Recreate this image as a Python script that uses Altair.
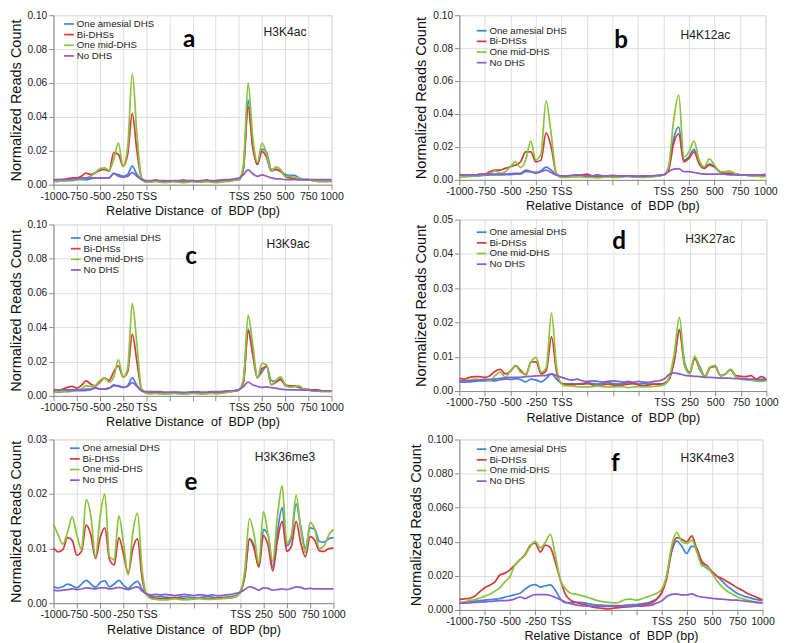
import altair as alt
import pandas as pd

# x positions: 0..1000 = -1000 bp..TSS (left promoter), 2000..3000 = TSS..+1000 bp (right)
POS = list(range(0, 3001, 50))
SERIES = ["One amesial DHS", "Bi-DHSs", "One mid-DHS", "No DHS"]
COLORS = ["#3f86d6", "#d83b3d", "#8cc43f", "#8b5ec8"]
TICK_POS = [0, 250, 500, 750, 1000, 1250, 1500, 1750, 2000, 2250, 2500, 2750, 3000]
TICK_LABELS = ["-1000", "-750", "-500", "-250", "TSS", "", "", "", "TSS", "250", "500", "750", "1000"]
X_TITLE = "Relative Distance\u00a0 of\u00a0 BDP (bp)"
Y_TITLE = "Normalized Reads Count"

# ---------------- panel a : H3K4ac ----------------
A_BLUE = [0.002, 0.002, 0.0025, 0.0025, 0.0025, 0.003, 0.003, 0.003, 0.0035, 0.004, 0.004, 0.004, 0.004, 0.0065, 0.006, 0.005, 0.006, 0.011, 0.006, 0.003, 0.002,
          0.002, 0.0022, 0.002, 0.0018, 0.002, 0.0022, 0.002, 0.0018, 0.0025, 0.002, 0.0018, 0.002, 0.002, 0.0022, 0.002, 0.0022, 0.0025, 0.0025, 0.0028,
          0.003, 0.010, 0.050, 0.024, 0.012, 0.021, 0.019, 0.009, 0.009, 0.008, 0.006, 0.0055, 0.0055, 0.004, 0.003, 0.003, 0.0025, 0.002, 0.002, 0.002, 0.0025]
A_RED = [0.0025, 0.003, 0.003, 0.0035, 0.004, 0.004, 0.005, 0.0068, 0.006, 0.007, 0.0085, 0.009, 0.008, 0.019, 0.018, 0.011, 0.018, 0.042, 0.020, 0.004, 0.002,
         0.002, 0.0025, 0.002, 0.0022, 0.0025, 0.002, 0.0018, 0.002, 0.0022, 0.0025, 0.002, 0.0022, 0.0025, 0.002, 0.0018, 0.002, 0.0022, 0.0025, 0.0028,
         0.003, 0.010, 0.046, 0.022, 0.012, 0.0195, 0.016, 0.008, 0.009, 0.008, 0.005, 0.004, 0.0035, 0.003, 0.003, 0.003, 0.0025, 0.0025, 0.002, 0.002, 0.002]
A_GREEN = [0.002, 0.002, 0.0025, 0.0025, 0.003, 0.003, 0.0035, 0.004, 0.005, 0.007, 0.0095, 0.010, 0.0085, 0.015, 0.0245, 0.011, 0.022, 0.0655, 0.030, 0.004, 0.0015,
           0.0015, 0.0018, 0.0015, 0.0012, 0.0015, 0.0018, 0.0015, 0.0012, 0.0015, 0.0018, 0.0015, 0.0015, 0.0018, 0.0015, 0.0012, 0.0015, 0.0018, 0.002, 0.0025,
           0.003, 0.012, 0.060, 0.028, 0.013, 0.0245, 0.018, 0.008, 0.0105, 0.009, 0.005, 0.005, 0.0045, 0.004, 0.003, 0.003, 0.0025, 0.002, 0.002, 0.002, 0.0025]
A_PURPLE = [0.003, 0.003, 0.003, 0.003, 0.0035, 0.0035, 0.004, 0.004, 0.004, 0.004, 0.004, 0.004, 0.004, 0.0068, 0.005, 0.0045, 0.005, 0.0072, 0.005, 0.003, 0.0025,
            0.0025, 0.0028, 0.0025, 0.0025, 0.0022, 0.0025, 0.0025, 0.0028, 0.0025, 0.0025, 0.0022, 0.0025, 0.0028, 0.0025, 0.0025, 0.0028, 0.003, 0.003, 0.0035,
            0.004, 0.006, 0.0088, 0.0065, 0.005, 0.0058, 0.005, 0.004, 0.0035, 0.0035, 0.003, 0.003, 0.003, 0.003, 0.003, 0.003, 0.003, 0.003, 0.003, 0.003, 0.003]

# ---------------- panel b : H4K12ac ----------------
B_BLUE = [0.002, 0.002, 0.0022, 0.0025, 0.0025, 0.0028, 0.003, 0.003, 0.003, 0.0032, 0.0032, 0.0035, 0.0035, 0.005, 0.005, 0.004, 0.0055, 0.0078, 0.006, 0.003, 0.002,
          0.002, 0.0022, 0.002, 0.0025, 0.002, 0.0022, 0.003, 0.0025, 0.002, 0.0022, 0.002, 0.0025, 0.0022, 0.002, 0.0022, 0.0025, 0.0022, 0.0025, 0.0028,
          0.003, 0.007, 0.025, 0.032, 0.012, 0.014, 0.0185, 0.010, 0.007, 0.0097, 0.008, 0.005, 0.004, 0.004, 0.0035, 0.003, 0.003, 0.003, 0.003, 0.003, 0.003]
B_RED = [0.0025, 0.003, 0.003, 0.003, 0.0035, 0.0035, 0.005, 0.006, 0.006, 0.007, 0.008, 0.009, 0.011, 0.017, 0.017, 0.011, 0.012, 0.0285, 0.020, 0.004, 0.002,
         0.002, 0.0022, 0.0025, 0.003, 0.0035, 0.0025, 0.002, 0.0022, 0.002, 0.002, 0.0022, 0.0025, 0.0025, 0.002, 0.002, 0.0022, 0.002, 0.0022, 0.0025,
         0.003, 0.006, 0.022, 0.028, 0.011, 0.013, 0.017, 0.010, 0.007, 0.009, 0.008, 0.005, 0.004, 0.004, 0.0035, 0.003, 0.003, 0.0025, 0.0025, 0.0025, 0.0025]
B_GREEN = [0.002, 0.002, 0.0025, 0.0025, 0.003, 0.003, 0.004, 0.0055, 0.004, 0.005, 0.008, 0.011, 0.0075, 0.012, 0.0235, 0.012, 0.016, 0.048, 0.028, 0.004, 0.0015,
           0.0015, 0.0018, 0.002, 0.0018, 0.0015, 0.0015, 0.0012, 0.0015, 0.0018, 0.0015, 0.0015, 0.0018, 0.0022, 0.002, 0.0018, 0.0015, 0.0018, 0.002, 0.0025,
           0.003, 0.008, 0.036, 0.0515, 0.014, 0.017, 0.0235, 0.012, 0.008, 0.0128, 0.009, 0.005, 0.005, 0.0055, 0.004, 0.003, 0.003, 0.0025, 0.0025, 0.002, 0.002]
B_PURPLE = [0.003, 0.003, 0.003, 0.003, 0.0032, 0.0032, 0.0035, 0.0035, 0.0035, 0.0035, 0.0038, 0.004, 0.004, 0.006, 0.005, 0.0045, 0.005, 0.006, 0.0045, 0.003, 0.0025,
            0.0025, 0.0028, 0.003, 0.0028, 0.0025, 0.0025, 0.0028, 0.0025, 0.0025, 0.0028, 0.0025, 0.0022, 0.0025, 0.0025, 0.0022, 0.0022, 0.0025, 0.0025, 0.0028,
            0.003, 0.005, 0.0065, 0.0068, 0.005, 0.005, 0.0045, 0.004, 0.0035, 0.0035, 0.0035, 0.0035, 0.0035, 0.003, 0.003, 0.003, 0.003, 0.003, 0.003, 0.003, 0.0035]

# ---------------- panel c : H3K9ac ----------------
C_BLUE = [0.0022, 0.0022, 0.0025, 0.0025, 0.0028, 0.003, 0.003, 0.0032, 0.0035, 0.0045, 0.004, 0.004, 0.0045, 0.0058, 0.006, 0.005, 0.006, 0.0105, 0.006, 0.003, 0.002,
          0.002, 0.0018, 0.0015, 0.0018, 0.0015, 0.0018, 0.002, 0.0018, 0.0015, 0.0025, 0.0018, 0.0015, 0.0018, 0.002, 0.0018, 0.002, 0.0022, 0.0025, 0.003,
          0.0035, 0.009, 0.039, 0.026, 0.011, 0.014, 0.0175, 0.009, 0.0085, 0.010, 0.006, 0.0055, 0.0055, 0.005, 0.004, 0.0035, 0.003, 0.003, 0.0028, 0.0028, 0.0028]
C_RED = [0.0025, 0.003, 0.004, 0.005, 0.0055, 0.0045, 0.006, 0.0088, 0.007, 0.0058, 0.008, 0.0104, 0.009, 0.014, 0.0175, 0.011, 0.014, 0.036, 0.020, 0.004, 0.002,
         0.0018, 0.002, 0.0018, 0.0015, 0.0018, 0.002, 0.0018, 0.0015, 0.0015, 0.0018, 0.002, 0.0018, 0.0015, 0.0018, 0.002, 0.0022, 0.0025, 0.0028, 0.003,
         0.0035, 0.008, 0.038, 0.024, 0.0105, 0.016, 0.017, 0.0065, 0.008, 0.0095, 0.0065, 0.0058, 0.0058, 0.0052, 0.004, 0.0038, 0.0035, 0.0035, 0.003, 0.003, 0.0028]
C_GREEN = [0.002, 0.0025, 0.0025, 0.003, 0.003, 0.0035, 0.004, 0.006, 0.0055, 0.006, 0.009, 0.0105, 0.008, 0.011, 0.021, 0.011, 0.016, 0.054, 0.030, 0.004, 0.0015,
           0.0012, 0.0015, 0.0012, 0.001, 0.0012, 0.0015, 0.0012, 0.001, 0.0012, 0.0015, 0.0012, 0.001, 0.0012, 0.0015, 0.0012, 0.0015, 0.0018, 0.0022, 0.0028,
           0.0035, 0.010, 0.047, 0.030, 0.0105, 0.019, 0.018, 0.0065, 0.009, 0.0113, 0.0065, 0.005, 0.0055, 0.0058, 0.004, 0.0035, 0.003, 0.0028, 0.0025, 0.0025, 0.0025]
C_PURPLE = [0.0035, 0.0035, 0.0035, 0.0035, 0.0035, 0.0035, 0.0035, 0.004, 0.004, 0.005, 0.004, 0.004, 0.0045, 0.0065, 0.0055, 0.005, 0.0055, 0.0078, 0.0055, 0.003, 0.0025,
            0.0025, 0.0025, 0.0025, 0.0022, 0.0022, 0.0022, 0.002, 0.002, 0.0022, 0.0022, 0.0025, 0.0022, 0.0022, 0.0025, 0.0025, 0.0025, 0.0028, 0.003, 0.003,
            0.0035, 0.0055, 0.008, 0.0065, 0.0055, 0.005, 0.0052, 0.0048, 0.0045, 0.004, 0.0037, 0.0035, 0.0035, 0.0035, 0.0033, 0.0033, 0.003, 0.003, 0.003, 0.003, 0.003]

# ---------------- panel d : H3K27ac ----------------
D_BLUE = [0.0027, 0.0026, 0.0027, 0.0028, 0.003, 0.003, 0.0031, 0.003, 0.0033, 0.0035, 0.0034, 0.0036, 0.0033, 0.0027, 0.0035, 0.0032, 0.0027, 0.0037, 0.005, 0.0035, 0.0022,
          0.002, 0.0022, 0.002, 0.0022, 0.0025, 0.0022, 0.002, 0.0022, 0.0025, 0.0022, 0.002, 0.0022, 0.0025, 0.0022, 0.002, 0.0022, 0.002, 0.002, 0.002,
          0.0022, 0.0035, 0.009, 0.018, 0.0085, 0.0055, 0.0095, 0.007, 0.0042, 0.0068, 0.0073, 0.0045, 0.005, 0.0063, 0.0042, 0.0035, 0.0033, 0.0032, 0.003, 0.003, 0.0032]
D_RED = [0.0037, 0.0035, 0.004, 0.0042, 0.0042, 0.004, 0.0045, 0.0058, 0.0063, 0.005, 0.0058, 0.0074, 0.006, 0.0047, 0.0085, 0.0085, 0.005, 0.006, 0.0158, 0.0055, 0.0022,
         0.002, 0.0018, 0.002, 0.002, 0.0022, 0.0018, 0.0015, 0.0018, 0.002, 0.0018, 0.0015, 0.0018, 0.002, 0.0022, 0.0018, 0.0015, 0.0018, 0.002, 0.002,
         0.0022, 0.0035, 0.009, 0.0176, 0.0075, 0.0052, 0.0095, 0.0062, 0.0042, 0.007, 0.0072, 0.0045, 0.005, 0.0062, 0.0045, 0.0043, 0.0042, 0.0045, 0.0035, 0.0042, 0.0033]
D_GREEN = [0.003, 0.003, 0.0032, 0.0035, 0.0033, 0.0035, 0.003, 0.0045, 0.0055, 0.004, 0.006, 0.0073, 0.0055, 0.005, 0.0085, 0.0098, 0.0055, 0.007, 0.0228, 0.007, 0.002,
           0.0015, 0.0015, 0.0013, 0.0012, 0.0012, 0.0013, 0.0015, 0.0013, 0.0012, 0.0012, 0.0013, 0.0012, 0.001, 0.0012, 0.0013, 0.0012, 0.0012, 0.0014, 0.0015,
           0.0018, 0.004, 0.011, 0.0215, 0.008, 0.005, 0.0102, 0.0065, 0.0042, 0.007, 0.0075, 0.0045, 0.005, 0.0063, 0.0042, 0.0035, 0.0035, 0.0032, 0.003, 0.0028, 0.003]
D_PURPLE = [0.003, 0.003, 0.003, 0.0031, 0.0032, 0.0033, 0.0034, 0.0035, 0.0037, 0.0038, 0.004, 0.004, 0.004, 0.0042, 0.0043, 0.0044, 0.0045, 0.0046, 0.005, 0.0045, 0.004,
            0.0035, 0.0032, 0.0035, 0.003, 0.0028, 0.003, 0.0028, 0.0026, 0.0028, 0.003, 0.0028, 0.0026, 0.0028, 0.0026, 0.0028, 0.0026, 0.0025, 0.0028, 0.003,
            0.0035, 0.0048, 0.0053, 0.005, 0.0046, 0.0044, 0.0043, 0.0042, 0.004, 0.004, 0.0039, 0.0038, 0.0038, 0.0037, 0.0036, 0.0036, 0.0035, 0.0035, 0.0034, 0.0034, 0.0035]

# ---------------- panel e : H3K36me3 ----------------
E_BLUE = [0.003, 0.0028, 0.003, 0.0035, 0.0032, 0.0028, 0.0035, 0.0042, 0.0035, 0.0029, 0.0038, 0.0041, 0.003, 0.0035, 0.0042, 0.0033, 0.0027, 0.0035, 0.004, 0.0025, 0.0016,
          0.0013, 0.0012, 0.0012, 0.0011, 0.001, 0.001, 0.0011, 0.0012, 0.0011, 0.001, 0.001, 0.0011, 0.0012, 0.0011, 0.001, 0.001, 0.0011, 0.0012, 0.0014,
          0.002, 0.005, 0.0118, 0.0105, 0.0068, 0.0135, 0.0125, 0.0065, 0.013, 0.0175, 0.0105, 0.012, 0.0182, 0.014, 0.010, 0.0138, 0.0135, 0.0113, 0.0112, 0.0118, 0.012]
E_RED = [0.0101, 0.0094, 0.0098, 0.012, 0.0115, 0.0088, 0.0095, 0.0143, 0.0125, 0.0082, 0.012, 0.0138, 0.008, 0.007, 0.012, 0.009, 0.0054, 0.010, 0.0118, 0.0045, 0.0015,
         0.001, 0.0009, 0.0008, 0.0008, 0.0009, 0.001, 0.0009, 0.0008, 0.0007, 0.0008, 0.0009, 0.0009, 0.0008, 0.0008, 0.0009, 0.001, 0.0009, 0.001, 0.0012,
         0.002, 0.005, 0.0118, 0.010, 0.0066, 0.0124, 0.0105, 0.0059, 0.0115, 0.015, 0.0095, 0.0105, 0.015, 0.011, 0.0085, 0.0122, 0.0115, 0.0096, 0.0095, 0.010, 0.0101]
E_GREEN = [0.0145, 0.0125, 0.0108, 0.013, 0.0158, 0.0125, 0.0098, 0.019, 0.016, 0.0085, 0.016, 0.020, 0.0085, 0.008, 0.016, 0.011, 0.0052, 0.013, 0.0165, 0.006, 0.0015,
           0.0008, 0.0007, 0.0006, 0.0006, 0.0007, 0.0008, 0.0007, 0.0006, 0.0007, 0.0008, 0.0009, 0.0008, 0.0007, 0.0007, 0.0008, 0.0008, 0.0009, 0.001, 0.0012,
           0.002, 0.006, 0.0155, 0.0125, 0.0072, 0.0168, 0.0125, 0.0077, 0.016, 0.0215, 0.011, 0.0125, 0.0198, 0.0135, 0.0092, 0.0148, 0.0135, 0.010, 0.0105, 0.0125, 0.0135]
E_PURPLE = [0.0024, 0.0023, 0.0024, 0.0025, 0.0026, 0.0025, 0.0026, 0.0028, 0.0027, 0.0026, 0.0028, 0.0028, 0.0026, 0.0027, 0.0029, 0.0027, 0.0025, 0.0028, 0.003, 0.0022, 0.0017,
            0.0015, 0.0016, 0.0015, 0.0016, 0.0015, 0.0014, 0.0015, 0.0016, 0.0015, 0.0014, 0.0015, 0.0015, 0.0014, 0.0015, 0.0014, 0.0014, 0.0015, 0.0016, 0.0018,
            0.002, 0.0025, 0.003, 0.0028, 0.0024, 0.0028, 0.0027, 0.0024, 0.0025, 0.0026, 0.0025, 0.0027, 0.003, 0.0029, 0.0026, 0.0027, 0.0026, 0.0026, 0.0026, 0.0026, 0.0026]

# ---------------- panel f : H3K4me3 ----------------
F_BLUE = [0.0042, 0.0045, 0.0048, 0.0052, 0.0055, 0.0058, 0.006, 0.0063, 0.0066, 0.0075, 0.0082, 0.009, 0.0098, 0.0122, 0.0142, 0.0149, 0.0134, 0.0142, 0.0147, 0.0115, 0.0065,
          0.0043, 0.0042, 0.0045, 0.0045, 0.004, 0.0034, 0.003, 0.0028, 0.0027, 0.0025, 0.0025, 0.0026, 0.0028, 0.003, 0.0032, 0.0035, 0.004, 0.005, 0.0065,
          0.010, 0.0195, 0.034, 0.0405, 0.0375, 0.0332, 0.0375, 0.036, 0.0275, 0.0245, 0.0225, 0.0198, 0.017, 0.014, 0.0118, 0.0097, 0.0085, 0.0075, 0.0067, 0.006, 0.0055]
F_RED = [0.006, 0.0065, 0.0068, 0.008, 0.0106, 0.013, 0.0145, 0.0163, 0.0205, 0.0216, 0.0235, 0.0265, 0.0295, 0.0325, 0.0377, 0.0392, 0.034, 0.038, 0.0365, 0.028, 0.0175,
         0.0092, 0.0057, 0.0045, 0.0037, 0.003, 0.002, 0.0014, 0.001, 0.0007, 0.0008, 0.0012, 0.0015, 0.0018, 0.002, 0.0023, 0.0028, 0.0033, 0.004, 0.006,
         0.0098, 0.018, 0.035, 0.0425, 0.0415, 0.040, 0.0435, 0.0355, 0.0285, 0.026, 0.0225, 0.0197, 0.0185, 0.0167, 0.0149, 0.013, 0.0115, 0.0097, 0.0085, 0.0072, 0.006]
F_GREEN = [0.0042, 0.0048, 0.0055, 0.006, 0.007, 0.008, 0.0092, 0.011, 0.013, 0.0165, 0.0195, 0.0265, 0.0295, 0.032, 0.037, 0.0402, 0.0365, 0.0395, 0.0443, 0.032, 0.0175,
           0.0125, 0.0098, 0.0093, 0.0085, 0.0078, 0.0068, 0.0058, 0.005, 0.0046, 0.0043, 0.0041, 0.005, 0.0062, 0.0063, 0.0057, 0.0065, 0.0075, 0.0085, 0.0097,
           0.012, 0.020, 0.0374, 0.0455, 0.0402, 0.039, 0.041, 0.034, 0.026, 0.0252, 0.0215, 0.017, 0.0135, 0.011, 0.0093, 0.0077, 0.0066, 0.0058, 0.0051, 0.0046, 0.0043]
F_PURPLE = [0.004, 0.004, 0.0042, 0.0044, 0.0046, 0.0048, 0.005, 0.0052, 0.0054, 0.0055, 0.0057, 0.0065, 0.0076, 0.0067, 0.008, 0.009, 0.009, 0.009, 0.0085, 0.0073, 0.006,
            0.0047, 0.0037, 0.003, 0.0025, 0.0023, 0.0022, 0.0022, 0.0021, 0.0021, 0.0022, 0.0022, 0.0022, 0.0021, 0.0022, 0.0023, 0.0023, 0.0025, 0.0028, 0.004,
            0.0052, 0.0078, 0.0092, 0.0095, 0.0088, 0.0088, 0.0095, 0.0082, 0.0076, 0.0072, 0.0068, 0.0065, 0.0063, 0.006, 0.0058, 0.0057, 0.0054, 0.005, 0.0047, 0.0043, 0.004]

LABEL_EXPR = "".join(f"datum.value == {v} ? '{t}' : " for v, t in zip(TICK_POS, TICK_LABELS)) + "''"

FONT = "Liberation Sans"


def panel(letter, mark, series, yticks, yfmt, w, h, leg_xy, letter_xy, mark_xy):
    rows = []
    for name, vals in zip(SERIES, series):
        for p, v in zip(POS, vals):
            rows.append({"pos": p, "val": v, "series": name})
    df = pd.DataFrame(rows)
    lines = alt.Chart(df).mark_line(interpolate="monotone", strokeWidth=1.8).encode(
        x=alt.X("pos:Q", scale=alt.Scale(domain=[0, 3000], nice=False, zero=False),
                axis=alt.Axis(values=TICK_POS, labelExpr=LABEL_EXPR, title=X_TITLE,
                              labelOverlap=False, labelFlush=False, labelBound=False,
                              labelFont=FONT, labelFontSize=11, labelColor="#222",
                              titleFont=FONT, titleFontSize=13, titleFontWeight="normal", titleColor="#111",
                              titlePadding=4, labelPadding=1)),
        y=alt.Y("val:Q", scale=alt.Scale(domain=[yticks[0], yticks[-1]], nice=False),
                axis=alt.Axis(values=yticks, format=yfmt, title=Y_TITLE,
                              labelFont=FONT, labelFontSize=10.5, labelColor="#222",
                              titleFont=FONT, titleFontSize=15, titleFontWeight="normal", titleColor="#111",
                              titlePadding=4, labelPadding=2)),
        color=alt.Color("series:N", scale=alt.Scale(domain=SERIES, range=COLORS),
                        legend=alt.Legend(title=None, orient="none", legendX=leg_xy[0], legendY=leg_xy[1],
                                          symbolType="stroke", symbolSize=100, symbolStrokeWidth=1.8,
                                          labelFontSize=10, labelFont=FONT, labelColor="#222",
                                          rowPadding=-1, padding=0, labelOffset=2, labelLimit=200)),
        detail="series:N",
    )
    letter_layer = alt.Chart(pd.DataFrame({"t": [letter]})).mark_text(
        font="Lato", fontSize=25, fontWeight="bold", color="#000", align="center", baseline="middle"
    ).encode(text="t:N", x=alt.value(letter_xy[0]), y=alt.value(letter_xy[1]))
    mark_layer = alt.Chart(pd.DataFrame({"t": [mark]})).mark_text(
        font=FONT, fontSize=12.5, color="#222", align="center", baseline="middle"
    ).encode(text="t:N", x=alt.value(mark_xy[0]), y=alt.value(mark_xy[1]))
    return alt.layer(lines, letter_layer, mark_layer).properties(width=w, height=h)


T10 = [0.0, 0.02, 0.04, 0.06, 0.08, 0.10]
pa = panel("a", "H3K4ac", [A_BLUE, A_RED, A_GREEN, A_PURPLE], T10, ".2f", 287, 175, (10, 3), (140, 25), (239, 17))
pc = panel("c", "H3K9ac", [C_BLUE, C_RED, C_GREEN, C_PURPLE], T10, ".2f", 287, 177, (17, 8), (142, 33), (242, 20))
pe = panel("e", "H3K36me3", [E_BLUE, E_RED, E_GREEN, E_PURPLE], [0.0, 0.01, 0.02, 0.03], ".2f", 289, 169,
           (16, 3), (142, 44), (239, 18))
pb = panel("b", "H4K12ac", [B_BLUE, B_RED, B_GREEN, B_PURPLE], T10, ".2f", 316, 170, (17, 10), (167, 26), (254, 21))
pd_ = panel("d", "H3K27ac", [D_BLUE, D_RED, D_GREEN, D_PURPLE], [0.0, 0.01, 0.02, 0.03, 0.04, 0.05], ".2f", 317, 177,
            (17, 7), (165, 22), (259, 20))
pf = panel("f", "H3K4me3", [F_BLUE, F_RED, F_GREEN, F_PURPLE], [0.0, 0.02, 0.04, 0.06, 0.08, 0.10], ".3f", 313, 176,
           (17, 4), (161, 25), (256, 19))


def stack(top2, bottom, gap1, gap2):
    inner = alt.vconcat(*top2, spacing=gap1).resolve_scale(color="independent").resolve_legend(color="independent")
    return alt.vconcat(inner, bottom, spacing=gap2).resolve_scale(color="independent").resolve_legend(color="independent")


left = stack([pa, pc], pe, 0, 4)
right = stack([pb, pd_], pf, 0, 9)

chart = alt.hconcat(left, right, spacing=64).resolve_scale(color="independent").resolve_legend(
    color="independent"
).properties(
    padding={"left": 0, "top": -9, "right": 0, "bottom": 0}
).configure_view(
    stroke="#9a9a9a", strokeWidth=1.5
).configure_axis(
    grid=False, domain=False, tickColor="#888", tickSize=3, tickWidth=1
).configure(background="white")

chart.save("out.html", embed_options={"renderer": "svg", "actions": False})
